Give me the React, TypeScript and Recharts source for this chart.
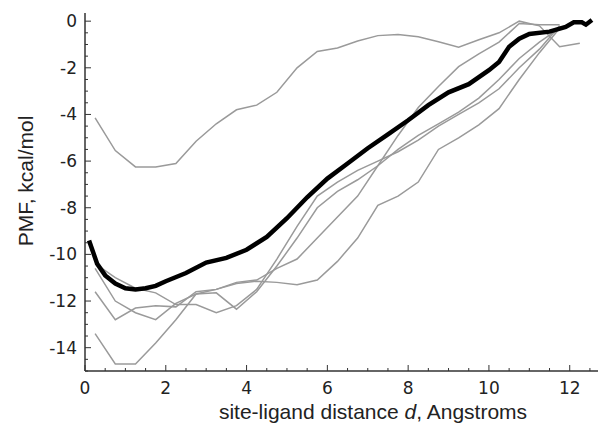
import { LineChart, Line, XAxis, YAxis } from "recharts";

// gray runs are sampled every 0.5 A starting at 0.25
const grayX = [0.25, 0.75, 1.25, 1.75, 2.25, 2.75, 3.25, 3.75, 4.25, 4.75, 5.25, 5.75, 6.25, 6.75, 7.25, 7.75, 8.25, 8.75, 9.25, 9.75, 10.25, 10.75, 11.25, 11.75, 12.25];

const runT = [-4.15, -5.55, -6.25, -6.25, -6.1, -5.15, -4.4, -3.8, -3.6, -3.05, -2.0, -1.3, -1.15, -0.85, -0.62, -0.57, -0.67, -0.88, -1.12, -0.8, -0.5, 0.0, -0.2, -1.1, -0.95];
const runA = [-10.6, -12.0, -12.5, -12.8, -12.1, -11.7, -11.65, -12.35, -11.6, -10.5, -9.3, -8.0, -7.3, -6.8, -6.2, -5.5, -4.9, -4.4, -3.9, -3.3, -2.5, -1.6, -0.9, -0.3, null];
const runD = [-10.4, -11.0, -11.45, -11.65, -12.15, -12.15, -12.5, -12.2, -11.5, -10.2, -8.8, -7.5, -6.9, -6.4, -6.0, -5.6, -5.1, -4.5, -4.0, -3.5, -2.9, -2.0, -1.2, -0.2, null];
const runB = [-11.6, -12.8, -12.3, -12.2, -12.25, -11.6, -11.5, -11.2, -11.1, -10.6, -10.2, -9.3, -8.4, -7.5, -6.2, -4.9, -3.7, -2.8, -1.95, -1.4, -0.9, -0.1, -0.15, -0.15, null];
const runC = [-13.4, -14.7, -14.7, -13.8, -12.8, -11.7, -11.5, -11.25, -11.15, -11.2, -11.3, -11.1, -10.3, -9.3, -7.9, -7.5, -6.9, -5.5, -5.0, -4.45, -3.75, -2.5, -1.35, -0.3, null];

// averaged PMF (thick curve)
const avgX = [0.1, 0.3, 0.5, 0.75, 1.0, 1.25, 1.5, 1.75, 2.0, 2.5, 3.0, 3.5, 4.0, 4.5, 5.0, 5.5, 6.0, 6.5, 7.0, 7.5, 8.0, 8.5, 9.0, 9.5, 10.0, 10.25, 10.5, 10.75, 11.0, 11.5, 11.9, 12.1, 12.3, 12.4, 12.55];
const avgY = [-9.4, -10.4, -10.9, -11.25, -11.45, -11.5, -11.45, -11.35, -11.15, -10.8, -10.35, -10.15, -9.8, -9.25, -8.45, -7.55, -6.75, -6.1, -5.45, -4.85, -4.25, -3.6, -3.05, -2.7, -2.1, -1.75, -1.1, -0.75, -0.55, -0.45, -0.25, -0.05, -0.05, -0.15, 0.05];

const xTicks = Array.from({ length: 26 }, (_, i) => i * 0.5);
const yTicks = Array.from({ length: 31 }, (_, i) => -15 + i * 0.5);

const toPts = (xs: number[], ys: (number | null)[]) =>
  xs.map((x, i) => ({ x, y: ys[i] })).filter((p) => p.y !== null);

const grayRuns = [runT, runA, runD, runB, runC].map((r) => toPts(grayX, r));
const avgRun = toPts(avgX, avgY);

const tickFont = { fontFamily: "DejaVu Sans", fontSize: 17, fill: "#222" };

const isMajor = (v: number) => Math.abs(v % 2) < 1e-6;

const XTick = (props: any) => {
  const { x, y, payload } = props;
  const v = payload.value;
  const major = isMajor(v);
  return (
    <g>
      <line x1={x} x2={x} y1={y} y2={y - (major ? 6 : 3)} stroke="#333" />
      {major && (
        <text x={x} y={y + 23} textAnchor="middle" {...tickFont}>
          {v}
        </text>
      )}
    </g>
  );
};

const YTick = (props: any) => {
  const { x, y, payload } = props;
  const v = payload.value;
  const major = isMajor(v);
  return (
    <g>
      <line x1={x} x2={x + (major ? 6 : 3)} y1={y} y2={y} stroke="#333" />
      {major && (
        <text x={x - 8} y={y + 6} textAnchor="end" {...tickFont}>
          {v}
        </text>
      )}
    </g>
  );
};

export default function App() {
  return (
    <div style={{ position: "absolute", left: 0, top: 0, width: 599, height: 427, background: "#fff" }}>
      <LineChart width={599} height={427} margin={{ top: 13, right: 1, left: 0, bottom: 0 }}>
        <XAxis
          type="number"
          dataKey="x"
          domain={[0, 12.7]}
          ticks={xTicks}
          interval={0}
          tick={<XTick />}
          tickLine={false}
          tickSize={0}
          tickMargin={0}
          height={56}
          allowDataOverflow
          axisLine={{ stroke: "#333", strokeWidth: 1.5 }}
        />
        <YAxis
          type="number"
          dataKey="y"
          domain={[-15, 0.35]}
          ticks={yTicks}
          interval={0}
          tick={<YTick />}
          tickLine={false}
          tickSize={0}
          tickMargin={0}
          width={85}
          allowDataOverflow
          axisLine={{ stroke: "#333", strokeWidth: 1.5 }}
        />
        {grayRuns.map((pts, i) => (
          <Line
            key={i}
            data={pts}
            dataKey="y"
            type="linear"
            stroke="#9a9a9a"
            strokeWidth={1.5}
            dot={false}
            isAnimationActive={false}
          />
        ))}
        <Line
          data={avgRun}
          dataKey="y"
          type="linear"
          stroke="#000"
          strokeWidth={4.5}
          dot={false}
          isAnimationActive={false}
        />
      </LineChart>
      <div
        style={{
          position: "absolute",
          left: 26,
          top: 181,
          transform: "translate(-50%, -50%) rotate(-90deg)",
          whiteSpace: "nowrap",
          fontFamily: "Liberation Sans",
          fontSize: 21,
          color: "#222",
        }}
      >
        PMF, kcal/mol
      </div>
      <div
        style={{
          position: "absolute",
          left: 373,
          top: 412,
          transform: "translate(-50%, -50%)",
          whiteSpace: "nowrap",
          fontFamily: "Liberation Sans",
          fontSize: 21,
          color: "#222",
        }}
      >
        site-ligand distance <i>d</i>, Angstroms
      </div>
    </div>
  );
}
